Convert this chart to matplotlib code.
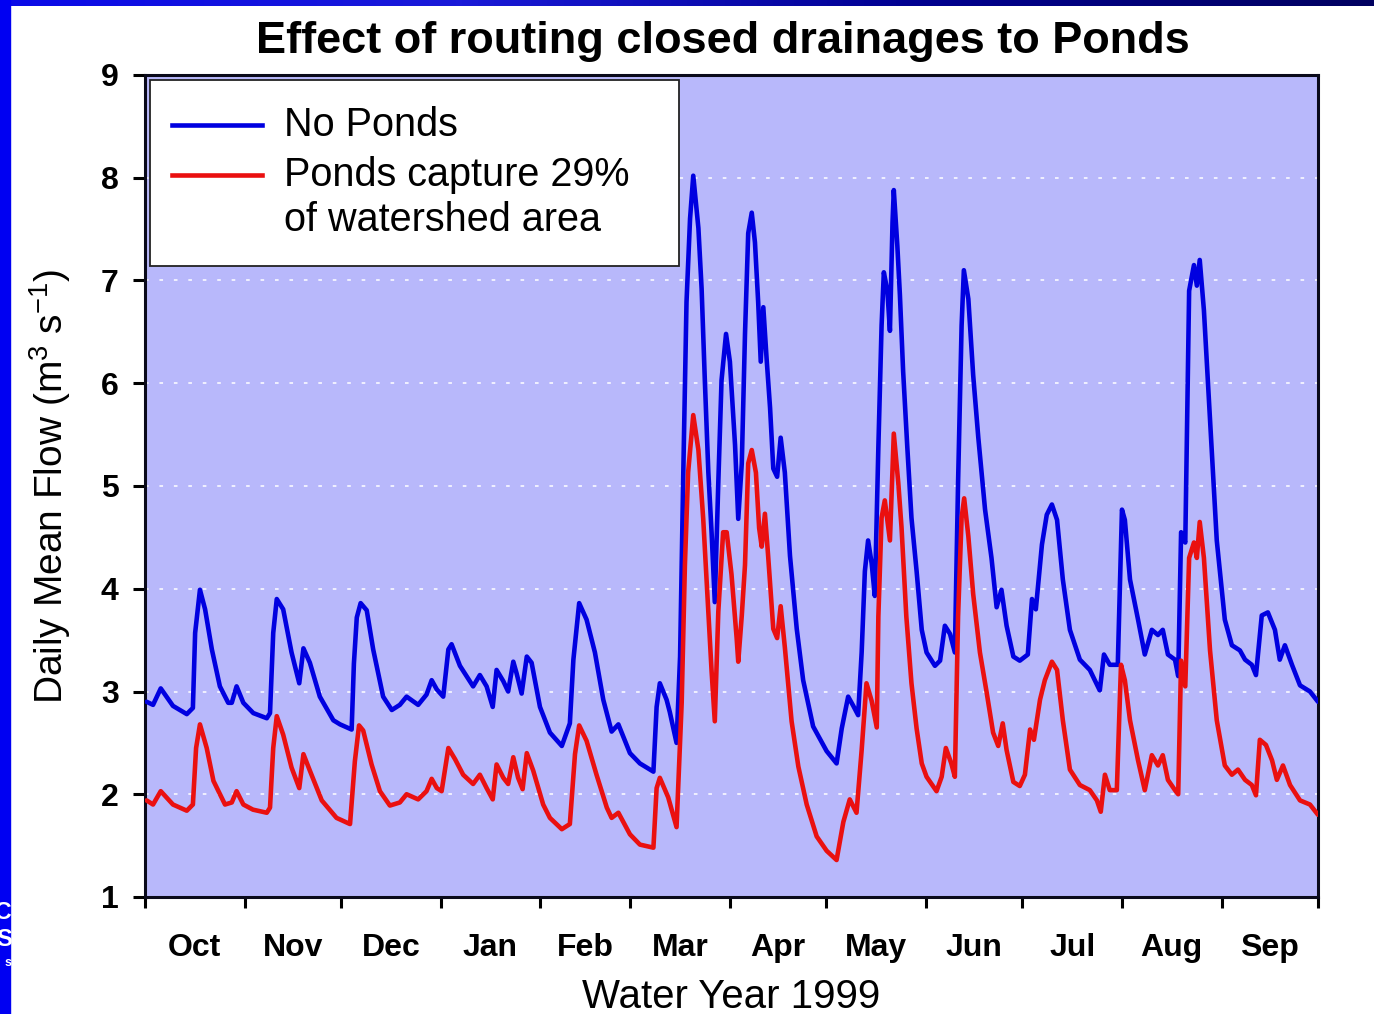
import numpy as np
import matplotlib
matplotlib.use("Agg")
import matplotlib.pyplot as plt
from matplotlib.patches import Rectangle
from matplotlib.lines import Line2D

plt.rcParams['font.family'] = ['Liberation Sans', 'DejaVu Sans']
plt.rcParams['mathtext.fontset'] = 'custom'
plt.rcParams['mathtext.rm'] = 'Liberation Sans'
plt.rcParams['mathtext.it'] = 'Liberation Sans:italic'
plt.rcParams['mathtext.default'] = 'regular'

# day of water year (0 = 1 Oct 1998) and daily mean flow, m3/s
days_no_ponds = [0.5, 2.5, 4.9, 8.7, 13.0, 14.9, 15.6, 17.1, 18.7, 20.8, 23.3, 25.9, 27.0, 28.5,
                 30.6, 33.7, 37.9, 38.9, 39.9, 41.0, 43.0, 45.6, 48.0, 49.3, 51.3, 54.4, 58.6,
                 60.7, 64.3, 65.0, 65.9, 67.1, 69.0, 71.0, 74.1, 76.8, 79.3, 81.4, 85.0, 87.6,
                 89.2, 90.8, 92.8, 94.4, 95.4, 98.0, 102.1, 104.2, 106.3, 108.2, 109.4, 111.5,
                 113.0, 114.6, 115.6, 117.2, 118.8, 120.3, 122.9, 126.0, 129.7, 132.2, 133.3,
                 135.1, 137.4, 140.0, 142.6, 145.2, 147.3, 150.9, 154.0, 158.2, 159.2, 160.2,
                 162.3, 163.3, 165.4, 166.5, 167.5, 168.5, 169.6, 170.6, 172.2, 173.2, 174.2,
                 175.3, 176.3, 177.3, 178.4, 179.4, 180.8, 182.0, 183.6, 184.6, 185.7, 186.7,
                 187.7, 188.8, 189.8, 190.8, 191.6, 192.4, 193.4, 194.5, 195.5, 196.7, 197.8,
                 199.1, 200.7, 202.8, 204.8, 207.9, 212.1, 215.2, 216.8, 218.8, 220.4, 221.9,
                 223.0, 224.0, 225.0, 226.1, 227.1, 228.2, 229.2, 229.9, 231.0, 231.8, 232.6,
                 233.0, 234.1, 234.9, 235.9, 237.2, 238.5, 240.1, 241.7, 243.2, 245.8, 247.4,
                 248.9, 250.5, 252.0, 253.0, 254.1, 254.8, 256.2, 257.7, 259.3, 261.4, 263.4,
                 265.0, 266.5, 268.1, 270.2, 272.2, 274.7, 276.0, 277.2, 279.1, 280.6, 282.2,
                 283.8, 285.6, 287.8, 290.9, 294.0, 297.1, 298.4, 300.2, 302.7, 304.0, 304.9,
                 306.5, 309.0, 311.1, 313.3, 315.2, 316.7, 318.3, 320.5, 321.5, 322.4, 323.7,
                 324.9, 326.4, 327.3, 328.2, 329.5, 331.4, 333.5, 336.0, 338.2, 340.7, 342.3,
                 344.4, 345.7, 347.5, 349.4, 351.6, 353.1, 354.7, 356.9, 359.4, 362.5, 365.0]
flow_no_ponds = [2.90, 2.87, 3.03, 2.86, 2.78, 2.84, 3.57, 3.99, 3.80, 3.41, 3.05, 2.89, 2.89, 3.05,
                 2.89, 2.79, 2.74, 2.79, 3.57, 3.90, 3.80, 3.38, 3.08, 3.42, 3.28, 2.95, 2.72,
                 2.68, 2.63, 3.27, 3.72, 3.86, 3.79, 3.41, 2.95, 2.82, 2.87, 2.95, 2.87, 2.97,
                 3.11, 3.02, 2.95, 3.41, 3.46, 3.25, 3.05, 3.16, 3.05, 2.85, 3.21, 3.10,
                 3.00, 3.29, 3.18, 2.98, 3.34, 3.28, 2.85, 2.60, 2.47, 2.69, 3.31,
                 3.86, 3.70, 3.38, 2.92, 2.61, 2.68, 2.40, 2.30, 2.22, 2.85, 3.08,
                 2.92, 2.80, 2.50, 3.34, 5.13, 6.79, 7.60, 8.02, 7.51, 6.92, 6.03,
                 5.13, 4.55, 3.87, 5.04, 6.03, 6.48, 6.21, 5.40, 4.68, 5.22, 6.48,
                 7.46, 7.66, 7.37, 6.79, 6.21, 6.74, 6.25, 5.76, 5.17, 5.09, 5.47,
                 5.13, 4.32, 3.61, 3.11, 2.66, 2.42, 2.30, 2.64, 2.95, 2.86, 2.77,
                 3.38, 4.17, 4.47, 4.25, 3.93, 5.38, 6.56, 7.08, 6.90, 6.51, 7.56,
                 7.88, 7.34, 6.86, 6.12, 5.38, 4.69, 4.17, 3.60, 3.38, 3.25, 3.30,
                 3.64, 3.56, 3.38, 5.03, 6.56, 7.10, 6.82, 6.08, 5.47, 4.77, 4.30,
                 3.82, 3.99, 3.64, 3.34, 3.30, 3.36, 3.90, 3.80, 4.43, 4.72, 4.82,
                 4.67, 4.09, 3.60, 3.31, 3.21, 3.01, 3.36, 3.26, 3.26, 4.77, 4.67,
                 4.09, 3.70, 3.36, 3.60, 3.55, 3.60, 3.36, 3.31, 3.15, 4.55, 4.45,
                 6.90, 7.15, 6.95, 7.20, 6.71, 5.64, 4.47, 3.70, 3.45, 3.40, 3.31,
                 3.26, 3.16, 3.74, 3.77, 3.60, 3.31, 3.45, 3.26, 3.06, 3.00, 2.90]

days_ponds = [0.5, 2.5, 4.9, 8.7, 13.0, 14.9, 15.9, 17.1, 19.2, 21.3, 24.9, 27.0, 28.5, 30.6,
              33.6, 37.9, 38.9, 39.9, 41.0, 43.0, 45.6, 48.0, 49.3, 51.3, 55.0, 59.6, 63.8,
              65.3, 66.6, 67.9, 70.5, 73.1, 76.2, 79.3, 81.4, 85.0, 87.6, 89.2, 90.8, 92.3,
              94.4, 96.5, 99.0, 102.1, 104.2, 106.3, 108.2, 109.4, 111.5, 113.0, 114.6, 116.1,
              117.5, 118.8, 120.8, 123.9, 126.0, 129.7, 132.2, 133.8, 135.1, 137.4, 140.5,
              143.7, 145.2, 147.3, 150.9, 154.0, 158.2, 159.2, 160.2, 162.8, 165.4, 167.0,
              168.0, 169.0, 170.6, 172.2, 173.7, 175.3, 176.3, 177.3, 178.4, 179.9, 181.0,
              182.5, 184.1, 184.6, 185.7, 186.7, 187.7, 188.8, 190.1, 191.1, 191.9, 192.9,
              193.9, 195.5, 196.7, 197.8, 199.1, 201.2, 203.3, 205.9, 209.0, 212.1, 215.2,
              217.3, 219.3, 221.4, 223.0, 224.5, 226.1, 227.7, 228.2, 229.2, 230.2, 231.8,
              233.0, 234.4, 235.4, 236.9, 238.5, 240.1, 241.7, 243.2, 246.3, 247.9, 249.2,
              250.9, 252.0, 253.0, 254.1, 254.9, 256.2, 257.7, 259.8, 261.9, 263.9, 265.5,
              266.9, 268.1, 270.2, 272.2, 273.8, 275.4, 276.6, 278.5, 280.0, 282.2, 283.8,
              285.6, 287.8, 290.9, 294.0, 296.2, 297.4, 298.7, 300.2, 302.4, 303.7, 304.9,
              306.5, 309.0, 311.1, 313.3, 315.2, 316.7, 318.3, 320.5, 321.5, 322.4, 323.7,
              324.9, 326.4, 327.3, 328.2, 329.5, 331.4, 333.5, 336.0, 338.2, 340.1, 342.3,
              344.4, 345.7, 346.9, 348.8, 350.7, 352.2, 354.1, 356.3, 359.4, 362.5, 365.0]
flow_ponds = [1.94, 1.90, 2.03, 1.90, 1.84, 1.90, 2.45, 2.68, 2.45, 2.13, 1.90, 1.92, 2.03, 1.90,
              1.85, 1.82, 1.87, 2.45, 2.76, 2.58, 2.26, 2.06, 2.39, 2.23, 1.94, 1.77, 1.71,
              2.32, 2.67, 2.62, 2.29, 2.03, 1.89, 1.92, 2.00, 1.95, 2.03, 2.15, 2.06, 2.03,
              2.45, 2.34, 2.19, 2.10, 2.19, 2.06, 1.95, 2.29, 2.16, 2.10, 2.36, 2.16,
              2.05, 2.40, 2.23, 1.90, 1.77, 1.66, 1.71, 2.39, 2.67, 2.52, 2.19,
              1.87, 1.77, 1.82, 1.61, 1.51, 1.48, 2.06, 2.16, 1.97, 1.68, 2.89,
              4.23, 5.13, 5.69, 5.35, 4.68, 3.78, 3.20, 2.71, 3.78, 4.55, 4.55,
              4.14, 3.52, 3.29, 3.74, 4.23, 5.22, 5.35, 5.13, 4.59, 4.41, 4.73,
              4.32, 3.61, 3.52, 3.83, 3.43, 2.71, 2.27, 1.90, 1.59, 1.45, 1.36,
              1.73, 1.95, 1.82, 2.43, 3.08, 2.91, 2.65, 3.73, 4.69, 4.86, 4.47,
              5.51, 5.03, 4.60, 3.73, 3.08, 2.64, 2.30, 2.17, 2.03, 2.17, 2.45,
              2.30, 2.17, 3.73, 4.69, 4.88, 4.51, 3.95, 3.38, 2.99, 2.60, 2.47,
              2.69, 2.43, 2.12, 2.08, 2.19, 2.63, 2.53, 2.92, 3.11, 3.29, 3.21,
              2.72, 2.24, 2.09, 2.04, 1.94, 1.83, 2.19, 2.04, 2.04, 3.26, 3.11,
              2.72, 2.33, 2.04, 2.38, 2.28, 2.38, 2.14, 2.04, 2.00, 3.30, 3.05,
              4.30, 4.45, 4.30, 4.65, 4.30, 3.40, 2.72, 2.28, 2.19, 2.24, 2.14,
              2.09, 1.99, 2.53, 2.48, 2.33, 2.14, 2.28, 2.09, 1.94, 1.90, 1.80]

month_starts = [0, 31, 61, 92, 123, 151, 182, 212, 243, 273, 304, 335, 365]
month_labels = ['Oct', 'Nov', 'Dec', 'Jan', 'Feb', 'Mar',
                'Apr', 'May', 'Jun', 'Jul', 'Aug', 'Sep']

fig = plt.figure(figsize=(13.74, 10.14), dpi=100, facecolor='white')

# slide frame: blue strip on the left, blue-to-navy band on top
fig.patches.append(Rectangle((0, 0), 10 / 1374, 1, transform=fig.transFigure,
                             color='#0000f2', zorder=0))
band = fig.add_axes([0, 1 - 6 / 1014, 1, 6 / 1014])
band.imshow(np.linspace(0, 1, 256)[None, :], aspect='auto', extent=[0, 1, 0, 1],
            cmap=matplotlib.colors.LinearSegmentedColormap.from_list(
                'band', ['#0a0ae8', '#1a1ad8', '#000090', '#000060']))
band.axis('off')
# bits of the slide logo peeking out at the left edge
for txt, yy, fs in [('IC', 0.100, 17), ('S', 0.073, 17), ('s', 0.050, 9)]:
    fig.text(12 / 1374, yy, txt, color='white', fontsize=fs, fontweight='bold',
             ha='right', va='center')

ax = fig.add_axes([145 / 1374, 1 - 897 / 1014, 1173 / 1374, 822 / 1014])
ax.set_facecolor('#b8b8fb')

ax.plot(days_no_ponds, flow_no_ponds, color='#0000e0', lw=3.3,
        solid_joinstyle='round', solid_capstyle='round', zorder=3)
ax.plot(days_ponds, flow_ponds, color='#ea1010', lw=3.3,
        solid_joinstyle='round', solid_capstyle='round', zorder=3)

ax.set_xlim(0, 365)
ax.set_ylim(1, 9)
ax.set_yticks(range(1, 10))
ax.set_xticks(month_starts, minor=True)
ax.set_xticks([(a + b) / 2 for a, b in zip(month_starts[:-1], month_starts[1:])])
ax.set_xticklabels(month_labels, fontsize=23, fontweight='bold')
ax.tick_params(axis='x', which='major', length=0, pad=26)
ax.tick_params(axis='x', which='minor', length=8, width=2.2, direction='out')
ax.tick_params(axis='y', length=9, width=2.2, direction='out', pad=10, labelsize=23)
for lbl in ax.get_yticklabels():
    lbl.set_fontweight('bold')

ax.yaxis.grid(True, color='white', linestyle=(0, (2, 6)), lw=1.3, alpha=0.85)
ax.set_axisbelow(True)
for sp in ax.spines.values():
    sp.set_linewidth(2.2)
    sp.set_color('#0a0a1a')

ax.set_xlabel('Water Year 1999', fontsize=29, labelpad=11)
ax.set_ylabel('Daily Mean Flow (m$^{3}$ s$^{-1}$)', fontsize=28, labelpad=20)
fig.text(0.526, 1 - 42 / 1014, 'Effect of routing closed drainages to Ponds',
         fontsize=32.5, fontweight='bold', ha='center', va='center')

# legend box drawn in axes coordinates
ax.add_patch(Rectangle((0.0043, 0.768), 0.451, 0.226, transform=ax.transAxes,
                       facecolor='white', edgecolor='#222222', lw=1.3, zorder=5))
ax.add_line(Line2D([0.023, 0.0997], [0.939, 0.939], transform=ax.transAxes,
                   color='#0000e0', lw=3.3, zorder=6))
ax.add_line(Line2D([0.023, 0.0997], [0.878, 0.878], transform=ax.transAxes,
                   color='#ea1010', lw=3.3, zorder=6))
for txt, yy in [('No Ponds', 0.939), ('Ponds capture 29%', 0.878),
                ('of watershed area', 0.824)]:
    ax.text(0.1185, yy, txt, transform=ax.transAxes, fontsize=28.5,
            va='center', zorder=6)

fig.savefig('out.png', dpi=100)
